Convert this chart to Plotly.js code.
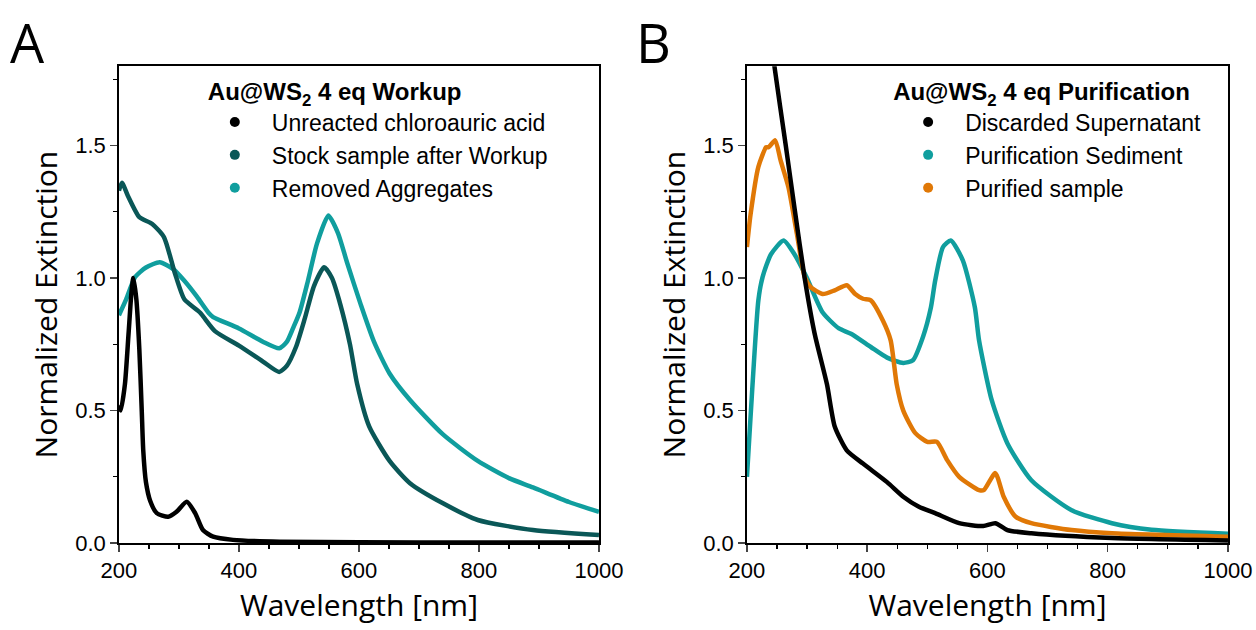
<!DOCTYPE html>
<html><head><meta charset="utf-8">
<script src="https://cdn.plot.ly/plotly-3.0.1.min.js"></script>
<style>html,body{margin:0;padding:0;background:#fff}#chart{width:1256px;height:630px}</style>
</head><body><div id="chart"></div>
<script>
// Panel A: Au@WS2 4 eq Workup
const aAcidX = [200,203,210,216,221,224,229,234,238,240.5,245,252,263,282,296,313,327,340,357,390,468,600,800,1000];
const aAcidY = [0.52,0.50,0.60,0.79,0.95,1.00,0.92,0.73,0.50,0.35,0.23,0.16,0.113,0.099,0.118,0.156,0.113,0.049,0.024,0.012,0.005,0.003,0.002,0.002];
const aStockX = [200,205,215,234,255,275,293,309,335,360,400,440,467,480,495,510,525,542,555,569,585,597,617,651,685,740,798,890,1000];
const aStockY = [1.33,1.36,1.31,1.23,1.205,1.155,1.02,0.92,0.87,0.80,0.745,0.685,0.646,0.67,0.74,0.85,0.97,1.041,1.0,0.90,0.75,0.60,0.44,0.31,0.226,0.15,0.087,0.049,0.03];
const aAggX = [200,212,227,245,268,290,309,330,350,357,400,440,467,480,490,501,515,530,549,565,580,603,625,651,685,740,798,850,890,950,1000];
const aAggY = [0.86,0.92,1.004,1.04,1.06,1.035,0.99,0.93,0.867,0.853,0.81,0.76,0.735,0.76,0.81,0.87,0.99,1.13,1.236,1.17,1.06,0.90,0.76,0.64,0.54,0.41,0.31,0.245,0.21,0.155,0.118];

// Panel B: Au@WS2 4 eq Purification
const bSuperX = [200,215,230,246,264.6,280,296,312.6,333,346,366,393,433,460,486,513,553,593,613,633,673,807,1000];
const bSuperY = [2.8,2.45,2.1,1.795,1.5,1.25,1.0,0.79,0.60,0.44,0.35,0.30,0.23,0.175,0.137,0.113,0.075,0.064,0.075,0.049,0.037,0.019,0.01];
const bSedX = [200,206,219,226,240,261,279,299,326,353,373,406,433,460,476,493,506,513,526,539,559,579,586,607,633,673,740,807,873,1000];
const bSedY = [0.25,0.476,0.916,1.004,1.09,1.142,1.09,1.004,0.87,0.81,0.79,0.74,0.70,0.68,0.69,0.78,0.89,0.99,1.117,1.142,1.067,0.89,0.765,0.54,0.377,0.237,0.124,0.075,0.05,0.035];
const bPurX = [200,206,219,232,236,247,256,269,283,296,306,326,346,366,380,393,406,426,439,449,460,480,500,516,533,553,586,594,613,627,647,673,740,807,1000];
const bPurY = [1.117,1.24,1.42,1.494,1.494,1.52,1.444,1.343,1.168,1.004,0.966,0.94,0.954,0.973,0.94,0.922,0.916,0.84,0.765,0.60,0.50,0.415,0.382,0.382,0.313,0.25,0.20,0.20,0.264,0.175,0.099,0.075,0.049,0.037,0.024];

const namesA = ['Unreacted chloroauric acid','Stock sample after Workup','Removed Aggregates'];
const namesB = ['Discarded Supernatant','Purification Sediment','Purified sample'];
const xTicks = [200,400,600,800,1000];
const yTicks = [0,0.5,1,1.5];

const cBlack = '#000000', cDark = '#0a5757', cTeal = '#109e9e', cOrange = '#e07806';
const LW = 4.5;

function curve(x,y,color,xa,ya){
  return {x:x,y:y,mode:'lines',type:'scatter',line:{color:color,width:LW,shape:'spline',smoothing:0.6},
          xaxis:xa,yaxis:ya,showlegend:false,hoverinfo:'x+y'};
}
function legItem(name,color,xa,ya,lg){
  return {x:[null],y:[null],mode:'markers',type:'scatter',name:name,marker:{color:color,size:10},
          xaxis:xa,yaxis:ya,legend:lg,showlegend:true};
}

const data = [
  curve(aAggX,aAggY,cTeal,'x','y'),
  curve(aStockX,aStockY,cDark,'x','y'),
  curve(aAcidX,aAcidY,cBlack,'x','y'),
  curve(bSedX,bSedY,cTeal,'x2','y2'),
  curve(bPurX,bPurY,cOrange,'x2','y2'),
  curve(bSuperX,bSuperY,cBlack,'x2','y2'),
  legItem(namesA[0],cBlack,'x','y','legend'),
  legItem(namesA[1],cDark,'x','y','legend'),
  legItem(namesA[2],cTeal,'x','y','legend'),
  legItem(namesB[0],cBlack,'x2','y2','legend2'),
  legItem(namesB[1],cTeal,'x2','y2','legend2'),
  legItem(namesB[2],cOrange,'x2','y2','legend2')
];

const tickFont = {family:'Liberation Sans, Arial, sans-serif',size:22,color:'#000'};
const titleFont = {family:'Open Sans, sans-serif',size:30,color:'#000'};
function xax(domain){
  return {domain:domain,range:[200,1000],tickvals:xTicks,ticks:'outside',ticklen:7,tickwidth:1.5,
    showline:true,linewidth:1.8,linecolor:'#000',mirror:true,showgrid:false,zeroline:false,
    tickfont:tickFont,minor:{dtick:50,tick0:0,ticks:'outside',ticklen:4,tickwidth:1.2,tickcolor:'#000',showgrid:false},
    title:{text:'Wavelength [nm]',font:titleFont,standoff:13},automargin:false};
}
function yax(anchor){
  return {domain:[0.138,0.895],range:[0,1.8],tickvals:yTicks,tickformat:'.1f',ticks:'outside',ticklen:7,tickwidth:1.5,
    showline:true,linewidth:1.8,linecolor:'#000',mirror:true,showgrid:false,zeroline:false,anchor:anchor,
    tickfont:tickFont,minor:{dtick:0.25,tick0:0,ticks:'outside',ticklen:4,tickwidth:1.2,tickcolor:'#000',showgrid:false},
    title:{text:'Normalized Extinction',font:titleFont,standoff:9},automargin:false};
}
const legFont = {family:'Liberation Sans, Arial, sans-serif',size:23,color:'#000'};
const legTitleFont = {family:'Liberation Sans, Arial, sans-serif',size:24,color:'#000'};

const layout = {
  width:1256,height:630,margin:{l:0,r:0,t:0,b:0},paper_bgcolor:'#fff',plot_bgcolor:'#fff',
  xaxis:Object.assign(xax([0.0947,0.4769]),{anchor:'y'}),
  yaxis:yax('x'),
  xaxis2:Object.assign(xax([0.5947,0.9777]),{anchor:'y2'}),
  yaxis2:yax('x2'),
  legend:{x:0.1575,y:0.890,xanchor:'left',yanchor:'top',bgcolor:'rgba(0,0,0,0)',font:legFont,
    title:{text:'\u200b\u2004<b>Au@WS<sub>2</sub> 4 eq Workup</b>',font:legTitleFont},tracegroupgap:0,itemwidth:64},
  legend2:{x:0.7095,y:0.890,xanchor:'left',yanchor:'top',bgcolor:'rgba(0,0,0,0)',font:legFont,
    title:{text:'<b>Au@WS<sub>2</sub> 4 eq Purification</b>',font:legTitleFont},tracegroupgap:0,itemwidth:64},
  annotations:[
    {text:'A',xref:'paper',yref:'paper',x:0.006,y:0.995,xanchor:'left',yanchor:'top',showarrow:false,
     font:{family:'Open Sans, sans-serif',size:54,color:'#000'}},
    {text:'B',xref:'paper',yref:'paper',x:0.505,y:0.995,xanchor:'left',yanchor:'top',showarrow:false,
     font:{family:'Open Sans, sans-serif',size:54,color:'#000'}}
  ]
};
Plotly.newPlot('chart',data,layout,{displayModeBar:false,staticPlot:true});
</script></body></html>
